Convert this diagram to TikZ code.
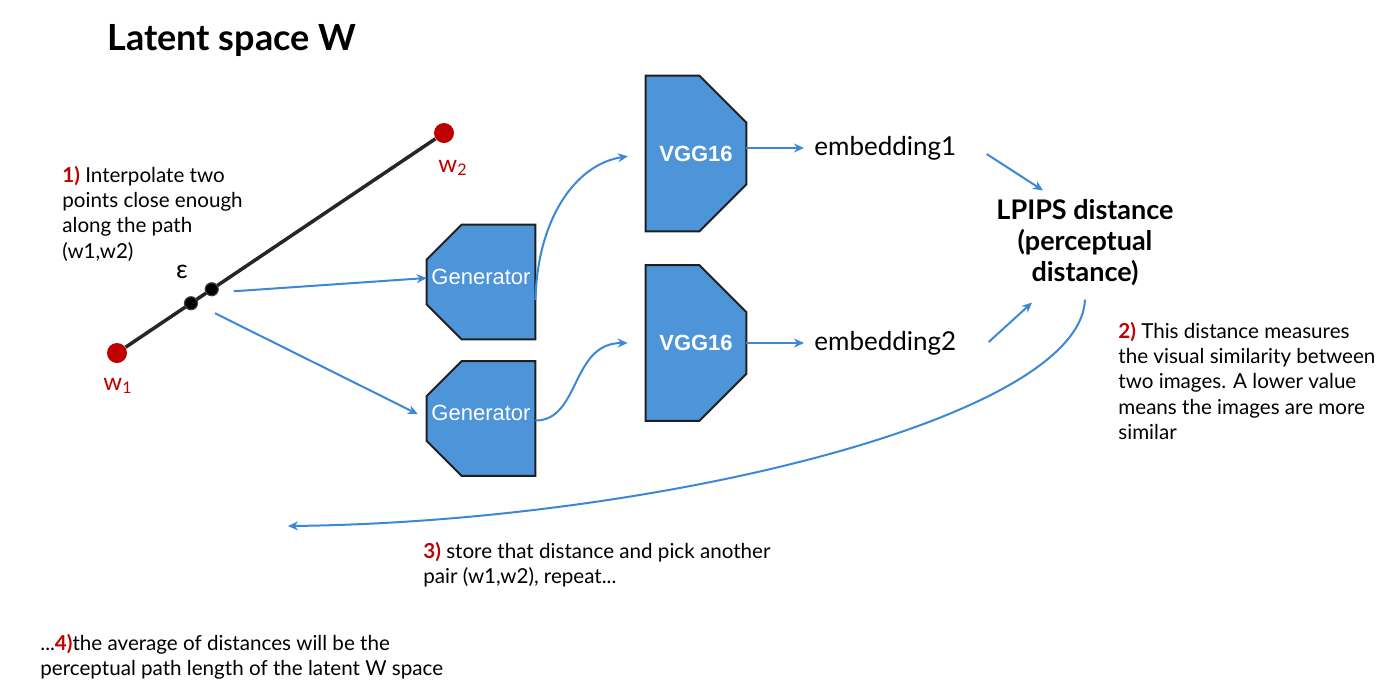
\documentclass[tikz,border=0pt]{standalone}
\usepackage{fontspec}
\setmainfont{Lato}
\setsansfont{Liberation Sans}
\usetikzlibrary{arrows.meta,calc,backgrounds}
\definecolor{GANBlue}{HTML}{4E94D8}
\definecolor{GANArrow}{HTML}{3C88D6}
\definecolor{GANRed}{HTML}{C00000}
\definecolor{GANEdge}{HTML}{1F1F1F}

\begin{document}
\begin{tikzpicture}[x=0.5pt, y=-0.5pt,
        every node/.style={inner sep=0pt},
        box/.style={draw=GANEdge, line width=1pt, fill=GANBlue},
        gen/.style={minimum width=54pt, minimum height=57pt, text=white,
          text height=8pt, text depth=6pt, font=\sffamily\fontsize{11}{13}\selectfont},
        vgg/.style={minimum width=50pt, minimum height=77.5pt, text=white,
          font=\sffamily\bfseries\fontsize{11}{13}\selectfont},
        flow/.style={draw=GANArrow, line width=1pt, -{Stealth[length=5pt, width=4.5pt]}},
        note/.style={anchor=north west, align=left, font=\fontsize{10.3}{12.6}\selectfont},
        emb/.style={anchor=west, font=\fontsize{13}{15}\selectfont},
        redpt/.style={circle, fill=GANRed, minimum size=10pt},
        blkpt/.style={circle, fill=black, draw=black!75, line width=0.6pt, minimum size=6.5pt},
        ptlab/.style={text=GANRed, font=\fontsize{12}{14}\selectfont},
      ]
      \useasboundingbox (0,0) rectangle (1400,698);

      \node[anchor=west, font=\bfseries\fontsize{18}{22}\selectfont] (title) at (107,40) {Latent space W};

      \node[redpt] (w1) at (117,353) {};
      \node[redpt] (w2) at (444,133) {};
      \draw[line width=1.75pt, draw=black!85] (w1) -- (w2)
        node[pos=.211, blkpt] (e1) {} node[pos=.278, blkpt] (e2) {};
      \node[ptlab] (w1lab) at (118,386) {w\textsubscript{1}};
      \node[ptlab] (w2lab) at (453,168) {w\textsubscript{2}};
      \node[font=\fontsize{13}{15}\selectfont] (eps) at (182,272) {ε};

      \node[note] (n1) at (62,166) {{\color{GANRed}\bfseries 1)} Interpolate two\\points close enough\\along the path\\(w1,w2)};

      \node[gen] (g1) at (481,282) {Generator};
      \node[gen] (g2) at (481,418.5) {Generator};
      \node[vgg] (v1) at (696,153.5) {VGG16};
      \node[vgg] (v2) at (696,343) {VGG16};

      \begin{scope}[on background layer]
        \foreach \g in {g1,g2}
          \draw[box] ($(\g.north west)+(35,0)$) -- (\g.north east) -- (\g.south east)
            -- ($(\g.south west)+(35,0)$) -- ($(\g.south west)+(0,-35)$) -- ($(\g.north west)+(0,35)$) -- cycle;
        \foreach \v in {v1,v2}
          \draw[box] (\v.north west) -- ($(\v.north east)+(-47,0)$) -- ($(\v.north east)+(0,47)$)
            -- ($(\v.south east)+(0,-47)$) -- ($(\v.south east)+(-47,0)$) -- (\v.south west) -- cycle;
      \end{scope}

      \node[emb] (emb1) at (814,148) {embedding1};
      \node[emb] (emb2) at (814,343) {embedding2};
      \node[align=center, font=\bfseries\fontsize{13.5}{15.5}\selectfont] (lpips) at (1085,243) {LPIPS distance\\(perceptual\\distance)};

      \draw[flow] ($(e2)+(22,2)$) -- ($(g1.west)+(0,-4)$);
      \draw[flow, shorten >=5pt] ($(e1)+(24,10)$) -- (g2.west);
      \draw[flow, shorten >=9pt] ($(g1.east)+(0,18)$) .. controls +(2,-80) and +(-71,11) .. (v1.west);
      \draw[flow, shorten >=9pt] ($(g2.east)+(0,2)$) .. controls +(45,0) and +(-75,0) .. (v2.west);
      \draw[flow, shorten >=5pt] (v1.east |- emb1.west) -- (emb1.west);
      \draw[flow, shorten >=5pt] (v2.east |- emb2.west) -- (emb2.west);
      \draw[flow] ($(emb1.east)+(30,6)$) -- ($(lpips.north)+(-42,-9)$);
      \draw[flow] ($(emb2.east)+(32,-1)$) -- ($(lpips.south)+(-53,16)$);

      \coordinate (back) at (288,526);
      \draw[flow] ($(lpips.south)+(0,13)$) .. controls +(-5,120) and +(362,-4) .. (back);

      \node[note] (n2) at (1118,322) {{\color{GANRed}\bfseries 2)} This distance measures\\the visual similarity between\\two images. A lower value\\means the images are more\\similar};
      \node[note] (n3) at (423,542) {{\color{GANRed}\bfseries 3)} store that distance and pick another\\pair (w1,w2), repeat...};
      \node[note] (n4) at (40,634) {...{\color{GANRed}\bfseries 4)}the average of distances will be the\\perceptual path length of the latent W space};
    \end{tikzpicture}
\end{document}
